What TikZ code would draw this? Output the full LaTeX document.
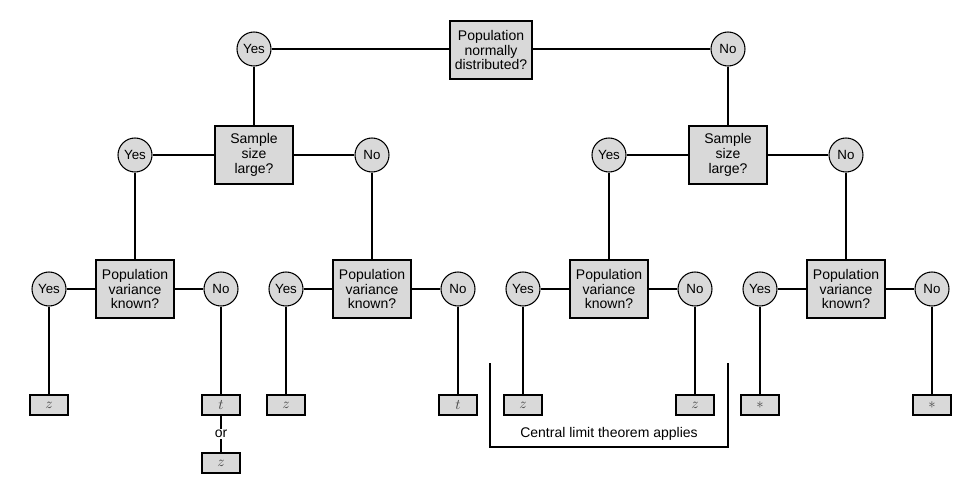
\documentclass[tikz,border=0pt]{standalone}
\usepackage{fontspec}
\setmainfont{Liberation Sans}
\usepackage{xcolor}
\definecolor{boxgray}{RGB}{217,217,217}
\definecolor{leafgray}{RGB}{70,70,70}

\tikzset{
  decision/.style={draw=black, line width=1.5pt, fill=boxgray, minimum width=59pt,
    minimum height=43.5pt, align=center, inner sep=1pt,
    font=\fontsize{10.5}{11}\selectfont},
  answer/.style={draw=black, line width=0.8pt, circle, fill=boxgray,
    minimum size=25.5pt, inner sep=0pt, font=\fontsize{10}{11}\selectfont},
  leaf/.style={draw=black, line width=1.2pt, fill=boxgray, minimum width=28.5pt,
    minimum height=15pt, inner sep=0pt, text=leafgray, font=\fontsize{11}{12}\selectfont},
  link/.style={line width=2.2pt}
}

\begin{document}
\begin{tikzpicture}[x=0.75pt,y=-0.75pt]
    \useasboundingbox (0,0) rectangle (960,482);

    % Top question
    \node[decision, minimum width=62pt] (normal) at (491,50) {Population\\normally\\distributed?};
    \node[answer] (normalyes) at (254,49) {Yes};
    \node[answer] (normalno) at (728,49) {No};

    % Sample size questions
    \node[decision] (size1) at (254,155) {Sample\\size\\large?};
    \node[decision] (size2) at (728,155) {Sample\\size\\large?};
    \node[answer] (size1yes) at (135,155) {Yes};
    \node[answer] (size1no) at (372,155) {No};
    \node[answer] (size2yes) at (609,155) {Yes};
    \node[answer] (size2no) at (846,155) {No};

    \draw[link] (normalyes) -- (normalyes -| normal.west);
    \draw[link] (normalno) -- (normalno -| normal.east);
    \draw[link] (normalyes) -- (size1);
    \draw[link] (normalno) -- (size2);
    \draw[link] (size1yes) -- (size1) -- (size1no);
    \draw[link] (size2yes) -- (size2) -- (size2no);

    % Variance questions and leaves
    \foreach \n/\x/\src/\ya/\na in {1/135/size1yes/z/t, 2/372/size1no/z/t,
                                    3/609/size2yes/z/z, 4/846/size2no/*/*} {
        \node[decision] (var\n) at (\x,289) {Population\\variance\\known?};
        \node[answer] (var\n yes) at (\x-86,289) {Yes};
        \node[answer] (var\n no) at (\x+86,289) {No};
        \node[leaf] (leaf\n yes) at (\x-86,405) {\ifx\ya*\footnotesize$*$\else$\ya$\fi};
        \node[leaf] (leaf\n no) at (\x+86,405) {\ifx\na*\footnotesize$*$\else$\na$\fi};
        \draw[link] (var\n yes) -- (var\n) -- (var\n no);
        \draw[link] (\src) -- (var\n);
        \draw[link] (var\n yes) -- (leaf\n yes);
        \draw[link] (var\n no) -- (leaf\n no);
    }

    % t or z
    \node[font=\fontsize{10.5}{11}\selectfont, inner sep=1pt] (or) at (221,434) {or};
    \node[leaf] (leafor) at (221,463) {$z$};
    \draw[link] (leaf1no) -- (or) -- (leafor);

    % Central limit bracket
    \coordinate (cltl) at (490,363);
    \coordinate (cltbl) at (490,447);
    \coordinate (cltbr) at (728,447);
    \coordinate (cltr) at (728,363);
    \draw[link] (cltl) -- (cltbl) -- (cltbr) -- (cltr);
    \node[font=\fontsize{10.5}{11}\selectfont] (clt) at (609,434) {Central limit theorem applies};
\end{tikzpicture}
\end{document}
